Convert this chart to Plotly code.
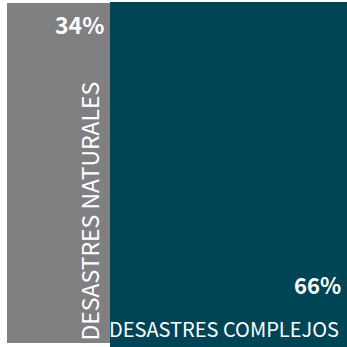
import plotly.graph_objects as go

# Share of disasters by type (percent)
categories = ["DESASTRES NATURALES", "DESASTRES COMPLEJOS"]
shares = [34, 66]
colors = ["#808083", "#004555"]

FONT = "Noto Sans CJK JP, Roboto, sans-serif"

fig = go.Figure()

# Natural disasters: gray block from 0 to its share
fig.add_trace(go.Bar(
    x=[shares[0]], y=[0.5014], base=[0], width=[0.980],
    orientation="h", marker=dict(color=colors[0], line=dict(width=0)),
    hoverinfo="skip", showlegend=False,
))
# Complex disasters: teal block stacked after the first share
fig.add_trace(go.Bar(
    x=[shares[1]], y=[0.497], base=[shares[0]], width=[0.994],
    orientation="h", marker=dict(color=colors[1], line=dict(width=0)),
    hoverinfo="skip", showlegend=False,
))

total = sum(shares)

# Percent labels
fig.add_annotation(x=shares[0] - 1.2, y=0.985, xref="x", yref="paper",
                   text=f"<b>{shares[0]}%</b>", showarrow=False,
                   xanchor="right", yanchor="top",
                   font=dict(family=FONT, size=23, color="white"))
fig.add_annotation(x=total - 1.2, y=0.13, xref="x", yref="paper",
                   text=f"<b>{shares[1]}%</b>", showarrow=False,
                   xanchor="right", yanchor="bottom",
                   font=dict(family=FONT, size=22, color="white"))

# Category names
fig.add_annotation(x=shares[0] - 0.5, y=0.012, xref="x", yref="paper",
                   text=categories[0], showarrow=False, textangle=-90,
                   xanchor="right", yanchor="bottom",
                   font=dict(family=FONT, size=23, color="white"))
fig.add_annotation(x=total - 1.8, y=0.005, xref="x", yref="paper",
                   text=categories[1], showarrow=False,
                   xanchor="right", yanchor="bottom",
                   font=dict(family=FONT, size=20, color="white"))

# The x range starts a little above zero, so the gray block is trimmed at the left edge
fig.update_layout(
    width=347, height=347,
    margin=dict(l=7, r=0, t=0, b=0),
    paper_bgcolor="white", plot_bgcolor="white",
    barmode="overlay", bargap=0,
    xaxis=dict(range=[5.3, total], visible=False, fixedrange=True),
    yaxis=dict(range=[0, 1], visible=False, fixedrange=True),
)

fig.write_html("out.html", config={"displayModeBar": False})
